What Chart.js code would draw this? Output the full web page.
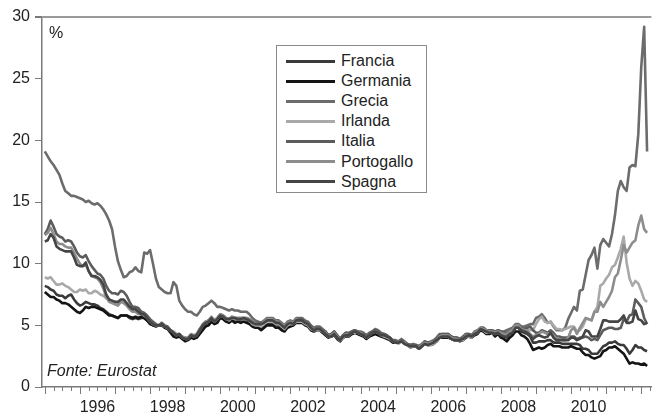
<!DOCTYPE html>
<html lang="it">
<head>
<meta charset="UTF-8">
<title>Rendimenti titoli di Stato a 10 anni</title>
<script src="https://cdn.jsdelivr.net/npm/chart.js"></script>
<style>
    body { margin: 0; background: #fff; }
    #wrap { position: relative; width: 655px; height: 417px; font-family: 'Liberation Sans', Arial, sans-serif; color: #222; }
    #legend { position: absolute; left: 276px; top: 45px; width: 151px; height: 148px; box-sizing: border-box;
              border: 1px solid #8a8a8a; background: #fff; padding-top: 5px; }
    .row { height: 20.1px; display: flex; align-items: center; font-size: 16px; }
    .row span.swatch { display: inline-block; width: 49px; height: 3px; margin-left: 9px; margin-right: 6px; }
    .note { position: absolute; font-size: 16px; line-height: 1; }
</style>
</head>
<body>
<div id="wrap">
    <canvas id="chart"></canvas>
    <div id="legend"></div>
    <div class="note" style="left:49px; top:25px;">%</div>
    <div class="note" style="left:47px; top:363px; font-style:italic;">Fonte: Eurostat</div>
</div>

<script>
// monthly long-term yields, Jan 1995 - Mar 2012 (%)
const startYear = 1995;
const countries = ['Francia', 'Germania', 'Grecia', 'Irlanda', 'Italia', 'Portogallo', 'Spagna'];
const yearLabels = [1996, 1998, 2000, 2002, 2004, 2006, 2008, 2010];
const yTicks = [0, 5, 10, 15, 20, 25, 30];

const francia = [
    8.2,8.1,7.9,7.8,7.5,7.4,7.4,7.2,7.4,7.5,7.1,6.8,
    6.6,6.7,6.9,6.8,6.7,6.7,6.6,6.4,6.3,6.1,5.9,5.8,
    5.7,5.6,5.8,5.8,5.8,5.6,5.5,5.6,5.5,5.6,5.6,5.4,
    5.2,5.0,5.0,5.0,5.1,4.9,4.8,4.5,4.2,4.2,4.2,4.0,
    3.9,3.9,4.1,4.0,4.2,4.5,4.8,5.1,5.2,5.5,5.3,5.4,
    5.7,5.7,5.5,5.4,5.5,5.4,5.4,5.4,5.4,5.4,5.3,5.0,
    4.9,4.9,4.8,5.0,5.2,5.2,5.2,5.0,5.0,4.8,4.6,4.9,
    5.0,5.0,5.3,5.3,5.3,5.1,5.0,4.7,4.6,4.6,4.6,4.5,
    4.3,4.1,4.1,4.3,4.0,3.8,4.0,4.2,4.2,4.3,4.4,4.4,
    4.3,4.2,4.0,4.2,4.4,4.5,4.4,4.2,4.2,4.1,4.0,3.7,
    3.7,3.6,3.8,3.6,3.4,3.3,3.3,3.3,3.1,3.3,3.5,3.4,
    3.5,3.5,3.7,4.0,4.1,4.1,4.1,3.9,3.8,3.8,3.8,3.8,
    4.1,4.1,4.0,4.3,4.4,4.7,4.6,4.4,4.4,4.4,4.2,4.4,
    4.2,4.1,4.0,4.3,4.4,4.8,4.8,4.5,4.4,4.3,4.1,3.6,
    3.6,3.7,3.7,3.7,3.8,3.8,3.6,3.6,3.6,3.5,3.5,3.5,
    3.5,3.5,3.5,3.4,3.1,3.1,3.0,2.7,2.7,2.7,3.0,3.3,
    3.4,3.6,3.6,3.7,3.5,3.4,3.4,3.1,2.7,3.0,3.4,3.2,
    3.2,3.0,2.9
];
const germania = [
    7.7,7.5,7.3,7.3,7.1,7.0,6.8,6.8,6.7,6.5,6.3,6.1,
    6.0,6.2,6.5,6.4,6.5,6.5,6.4,6.3,6.2,6.0,5.8,5.8,
    5.7,5.6,5.8,5.8,5.8,5.7,5.6,5.7,5.6,5.7,5.6,5.4,
    5.1,5.0,4.9,5.0,5.0,4.8,4.7,4.4,4.1,4.0,4.1,3.9,
    3.7,3.8,4.0,3.9,4.0,4.3,4.6,4.9,5.0,5.3,5.1,5.2,
    5.6,5.5,5.3,5.2,5.4,5.2,5.3,5.2,5.3,5.2,5.1,4.9,
    4.8,4.8,4.6,4.8,5.0,5.0,5.0,4.8,4.8,4.6,4.5,4.8,
    4.9,5.0,5.2,5.2,5.2,5.0,4.9,4.6,4.5,4.6,4.6,4.4,
    4.2,4.0,4.1,4.2,3.9,3.7,4.0,4.1,4.1,4.3,4.4,4.3,
    4.2,4.1,3.9,4.1,4.2,4.3,4.2,4.1,4.0,3.9,3.8,3.6,
    3.6,3.6,3.7,3.5,3.4,3.2,3.3,3.3,3.1,3.3,3.5,3.4,
    3.4,3.5,3.7,4.0,4.0,4.0,4.0,3.9,3.8,3.8,3.7,3.8,
    4.0,4.1,4.0,4.2,4.3,4.6,4.5,4.3,4.3,4.4,4.1,4.3,
    4.0,3.9,3.7,4.0,4.2,4.5,4.5,4.2,4.1,3.9,3.5,3.0,
    3.1,3.2,3.1,3.2,3.4,3.5,3.3,3.3,3.3,3.2,3.2,3.2,
    3.3,3.2,3.1,3.1,2.8,2.6,2.6,2.4,2.3,2.4,2.5,2.9,
    3.0,3.2,3.2,3.3,3.1,2.9,2.7,2.3,1.9,2.0,1.9,1.9,
    1.8,1.9,1.7
];
const grecia = [
    19.1,18.7,18.3,18.0,17.6,17.2,16.5,15.9,15.7,15.5,15.5,15.4,
    15.3,15.2,15.0,15.1,14.9,14.8,14.9,14.7,14.4,14.0,13.5,12.8,
    11.4,10.2,9.5,8.9,9.0,9.3,9.4,9.7,9.4,9.3,10.9,10.8,
    11.1,10.0,8.8,8.1,7.9,7.7,7.6,7.6,8.5,8.2,7.0,6.6,
    6.3,6.1,6.1,5.9,5.8,6.1,6.5,6.6,6.8,7.0,6.8,6.5,
    6.5,6.4,6.3,6.2,6.3,6.2,6.2,6.1,6.1,6.1,5.9,5.6,
    5.4,5.3,5.2,5.4,5.6,5.6,5.6,5.4,5.4,5.2,5.0,5.3,
    5.4,5.3,5.6,5.6,5.6,5.4,5.3,5.0,4.8,4.9,4.9,4.7,
    4.5,4.2,4.3,4.5,4.2,3.9,4.2,4.4,4.4,4.5,4.6,4.5,
    4.5,4.4,4.2,4.4,4.5,4.7,4.6,4.4,4.3,4.2,4.0,3.8,
    3.8,3.7,3.9,3.7,3.5,3.4,3.5,3.4,3.3,3.5,3.7,3.6,
    3.7,3.8,4.0,4.3,4.3,4.3,4.3,4.1,4.0,4.0,3.9,4.1,
    4.3,4.3,4.2,4.5,4.6,4.8,4.8,4.6,4.6,4.6,4.5,4.6,
    4.5,4.5,4.6,4.7,4.8,5.1,5.1,4.9,4.9,5.0,5.1,5.1,
    5.6,5.7,5.9,5.6,5.2,5.3,4.9,4.6,4.6,4.6,4.8,5.5,
    6.0,6.5,6.2,7.8,7.9,9.1,10.3,10.7,11.3,9.6,11.5,12.0,
    11.7,11.4,12.4,13.9,15.9,16.7,16.2,15.9,17.8,18.0,17.9,20.5,
    25.9,29.2,19.1
];
const irlanda = [
    8.9,8.8,8.9,8.6,8.3,8.3,8.4,8.2,8.1,7.9,7.7,7.7,
    7.9,7.8,7.9,7.6,7.6,7.8,7.7,7.5,7.4,7.2,7.1,7.0,
    6.9,6.8,7.0,7.0,6.8,6.5,6.3,6.3,6.2,6.1,6.0,5.7,
    5.3,5.1,5.0,5.0,5.1,4.9,4.8,4.6,4.4,4.2,4.3,4.0,
    3.9,3.9,4.2,4.1,4.2,4.6,5.0,5.2,5.3,5.6,5.3,5.5,
    5.8,5.7,5.5,5.4,5.6,5.5,5.5,5.5,5.5,5.5,5.4,5.1,
    5.0,5.0,4.9,5.1,5.3,5.3,5.3,5.1,5.1,4.9,4.7,5.0,
    5.1,5.1,5.3,5.3,5.3,5.1,5.0,4.7,4.6,4.6,4.6,4.5,
    4.3,4.1,4.1,4.3,4.0,3.8,4.0,4.2,4.2,4.4,4.4,4.4,
    4.3,4.2,4.0,4.2,4.4,4.5,4.4,4.2,4.1,4.0,3.9,3.7,
    3.6,3.5,3.7,3.5,3.4,3.2,3.3,3.3,3.1,3.3,3.5,3.4,
    3.4,3.5,3.7,4.0,4.1,4.1,4.1,3.9,3.8,3.8,3.8,3.8,
    4.1,4.1,4.0,4.3,4.4,4.7,4.6,4.4,4.4,4.4,4.3,4.4,
    4.3,4.3,4.3,4.5,4.6,5.0,5.0,4.7,4.6,4.7,4.6,4.6,
    5.1,5.5,5.7,5.3,5.2,5.3,5.0,4.7,4.7,4.6,4.7,4.8,
    4.9,4.9,4.5,4.6,4.9,5.5,5.5,5.4,6.1,6.5,8.2,8.4,
    8.8,9.1,9.7,9.9,10.5,11.2,12.2,10.1,8.8,8.2,8.6,8.4,
    7.8,7.1,6.9
];
const italia = [
    12.4,12.8,13.5,13.0,12.4,12.2,12.1,11.8,11.9,11.8,11.4,10.9,
    10.6,10.5,10.7,10.2,9.8,9.5,9.2,9.1,8.8,8.2,7.8,7.6,
    7.6,7.5,7.8,7.7,7.4,6.9,6.5,6.5,6.4,6.1,6.0,5.8,
    5.5,5.3,5.1,5.0,5.2,5.0,4.9,4.6,4.4,4.2,4.3,4.0,
    3.9,3.9,4.2,4.1,4.3,4.7,5.0,5.3,5.4,5.6,5.4,5.6,
    5.9,5.8,5.6,5.5,5.7,5.6,5.6,5.6,5.6,5.6,5.5,5.3,
    5.2,5.2,5.2,5.3,5.5,5.5,5.5,5.3,5.3,5.1,4.9,5.2,
    5.3,5.2,5.5,5.5,5.5,5.3,5.2,4.9,4.7,4.8,4.8,4.6,
    4.5,4.2,4.3,4.5,4.2,3.9,4.2,4.4,4.3,4.5,4.6,4.5,
    4.4,4.3,4.1,4.3,4.5,4.6,4.5,4.3,4.3,4.2,4.0,3.8,
    3.7,3.6,3.8,3.6,3.5,3.4,3.4,3.4,3.3,3.4,3.7,3.6,
    3.6,3.7,3.9,4.2,4.3,4.3,4.3,4.1,4.0,4.0,3.9,4.0,
    4.3,4.3,4.2,4.4,4.5,4.8,4.8,4.6,4.6,4.6,4.4,4.6,
    4.5,4.4,4.4,4.5,4.6,5.0,5.0,4.8,4.7,4.8,4.9,4.6,
    4.4,4.4,4.6,4.5,4.4,4.6,4.4,4.1,4.1,4.0,4.0,4.0,
    4.1,4.1,3.9,4.0,4.0,4.1,4.0,3.8,3.9,3.8,4.2,4.6,
    4.7,4.8,4.8,4.7,4.7,4.8,5.5,5.3,5.8,5.9,7.1,6.8,
    6.5,5.6,5.1
];
const portogallo = [
    12.3,12.5,12.9,12.4,11.8,11.6,11.6,11.4,11.3,11.3,10.9,10.4,
    10.0,9.8,9.9,9.4,9.0,8.9,8.8,8.5,8.0,7.3,6.9,6.8,
    6.7,6.6,6.9,6.8,6.6,6.3,6.1,6.1,5.9,5.9,5.8,5.6,
    5.3,5.1,5.0,5.0,5.1,4.9,4.8,4.6,4.5,4.3,4.3,4.1,
    4.0,4.0,4.3,4.2,4.3,4.7,5.1,5.3,5.4,5.7,5.4,5.6,
    5.9,5.8,5.6,5.5,5.7,5.6,5.6,5.6,5.6,5.6,5.5,5.2,
    5.2,5.1,5.1,5.3,5.5,5.5,5.5,5.3,5.3,5.1,4.9,5.2,
    5.3,5.2,5.5,5.4,5.4,5.2,5.1,4.8,4.7,4.7,4.7,4.5,
    4.4,4.1,4.2,4.4,4.1,3.8,4.1,4.3,4.2,4.4,4.5,4.4,
    4.4,4.2,4.0,4.2,4.4,4.5,4.4,4.2,4.2,4.1,4.0,3.7,
    3.6,3.6,3.7,3.6,3.4,3.3,3.3,3.3,3.2,3.4,3.6,3.5,
    3.6,3.6,3.8,4.1,4.2,4.2,4.2,4.0,3.9,3.9,3.8,3.9,
    4.2,4.2,4.1,4.4,4.5,4.8,4.7,4.6,4.5,4.5,4.4,4.5,
    4.4,4.3,4.3,4.5,4.6,5.0,5.0,4.7,4.6,4.6,4.3,4.1,
    4.2,4.3,4.5,4.4,4.3,4.4,4.2,3.9,3.9,3.8,3.8,4.0,
    4.6,4.8,4.3,4.8,5.2,5.6,5.5,5.4,6.1,6.1,6.9,6.5,
    6.9,7.3,7.8,8.9,9.2,10.3,11.5,10.9,11.3,11.7,11.9,13.1,
    13.9,12.8,12.5
];
const spagna = [
    11.8,11.9,12.4,12.1,11.4,11.2,11.1,11.0,11.0,11.0,10.5,9.9,
    9.8,9.8,10.1,9.4,9.0,9.0,8.9,8.7,8.3,7.5,7.1,7.0,
    6.9,6.9,7.1,7.1,6.8,6.5,6.3,6.3,6.1,5.9,5.9,5.6,
    5.3,5.1,5.0,5.0,5.1,4.9,4.8,4.6,4.4,4.2,4.3,4.0,
    3.9,3.9,4.2,4.1,4.2,4.6,5.0,5.2,5.3,5.6,5.3,5.5,
    5.8,5.7,5.5,5.5,5.6,5.6,5.5,5.5,5.6,5.5,5.4,5.2,
    5.1,5.1,5.1,5.2,5.4,5.4,5.4,5.2,5.2,5.0,4.8,5.1,
    5.2,5.1,5.4,5.4,5.4,5.2,5.1,4.8,4.6,4.7,4.7,4.5,
    4.3,4.1,4.1,4.3,4.0,3.8,4.1,4.2,4.2,4.4,4.5,4.4,
    4.3,4.2,4.0,4.2,4.4,4.5,4.4,4.2,4.2,4.1,4.0,3.7,
    3.6,3.6,3.7,3.5,3.4,3.3,3.3,3.3,3.1,3.3,3.5,3.4,
    3.5,3.6,3.8,4.0,4.1,4.1,4.1,3.9,3.8,3.8,3.8,3.9,
    4.1,4.2,4.1,4.3,4.4,4.7,4.6,4.5,4.4,4.4,4.3,4.4,
    4.2,4.1,4.1,4.3,4.4,4.8,4.8,4.6,4.5,4.4,4.2,3.9,
    4.1,4.2,4.1,4.0,4.1,4.4,4.0,3.8,3.8,3.8,3.8,3.8,
    4.0,4.0,3.8,3.9,4.1,4.6,4.5,4.1,4.1,4.1,4.7,5.4,
    5.4,5.3,5.3,5.3,5.3,5.5,5.8,5.2,5.2,5.3,6.2,5.5,
    5.4,5.1,5.2
];

const seriesValues = [francia, germania, grecia, irlanda, italia, portogallo, spagna];
const lineColors = ['#3a3a3a', '#141414', '#6c6c6c', '#a9a9a9', '#5c5c5c', '#8d8d8d', '#454545'];

// month i -> decimal year
const toPoints = values => values.map((v, i) => ({ x: startYear + i / 12, y: v }));

const datasets = countries.map((name, k) => ({
    label: name,
    data: toPoints(seriesValues[k]),
    borderColor: lineColors[k],
    backgroundColor: lineColors[k],
    borderWidth: 2.6,
    borderJoinStyle: 'round',
    pointRadius: 0,
    tension: 0,
    order: countries.length - k
}));

// quarter tick marks under the time axis, longer at each new year
const quarterTicks = {
    id: 'quarterTicks',
    afterDraw(chart) {
        const xs = chart.scales.x;
        const ctx = chart.ctx;
        const y0 = chart.chartArea.bottom;
        ctx.save();
        ctx.strokeStyle = '#7a7a7a';
        ctx.lineWidth = 1;
        for (let q = startYear * 4; q / 4 <= xs.max; q++) {
            const px = Math.round(xs.getPixelForValue(q / 4)) + 0.5;
            const len = q % 4 === 0 ? 7 : 4;
            ctx.beginPath();
            ctx.moveTo(px, y0);
            ctx.lineTo(px, y0 + len);
            ctx.stroke();
        }
        ctx.restore();
    }
};

const tickFont = { family: "'Liberation Sans', Arial, sans-serif", size: 16 };

const chart = new Chart(document.getElementById('chart'), {
    type: 'line',
    data: { datasets: datasets },
    options: {
        responsive: true,
        maintainAspectRatio: false,
        animation: false,
        layout: { padding: { top: 17, right: 0, left: 0, bottom: 0 } },
        plugins: { legend: { display: false }, tooltip: { enabled: false } },
        scales: {
            x: {
                type: 'linear',
                min: 1994.92,
                max: 2012.29,
                afterFit: s => { s.height = 30; },
                afterBuildTicks: s => {
                    const t = [];
                    for (let q = startYear * 4; q / 4 <= s.max; q++) t.push({ value: q / 4 });
                    s.ticks = t;
                },
                grid: { display: false, tickLength: 6 },
                border: { display: true, color: '#7a7a7a', width: 1.5 },
                ticks: {
                    autoSkip: false,
                    maxRotation: 0,
                    padding: 5,
                    color: '#222',
                    font: tickFont,
                    callback: v => {
                        const q = Math.round(v * 4);
                        const yr = Math.floor(q / 4);
                        return (q % 4 === 2 && yearLabels.includes(yr)) ? String(yr) : '';
                    }
                }
            },
            y: {
                min: 0,
                max: 30,
                afterFit: s => { s.width = 42; },
                afterBuildTicks: s => { s.ticks = yTicks.map(v => ({ value: v })); },
                grid: {
                    drawOnChartArea: true,
                    tickLength: 7,
                    tickColor: '#7a7a7a',
                    color: c => (c.tick && c.tick.value === 30) ? '#9a9a9a' : 'rgba(0,0,0,0)',
                    lineWidth: c => (c.tick && c.tick.value === 30) ? 2 : 1
                },
                border: { display: true, color: '#7a7a7a', width: 1.5 },
                ticks: { padding: 5, color: '#222', font: tickFont }
            }
        }
    },
    plugins: [quarterTicks]
});

// legend box built from the chart's datasets
const legend = document.getElementById('legend');
chart.data.datasets.forEach(ds => {
    const row = document.createElement('div');
    row.className = 'row';
    row.innerHTML = '<span class="swatch" style="background:' + ds.borderColor + '"></span><span>' + ds.label + '</span>';
    legend.appendChild(row);
});
</script>
</body>
</html>
